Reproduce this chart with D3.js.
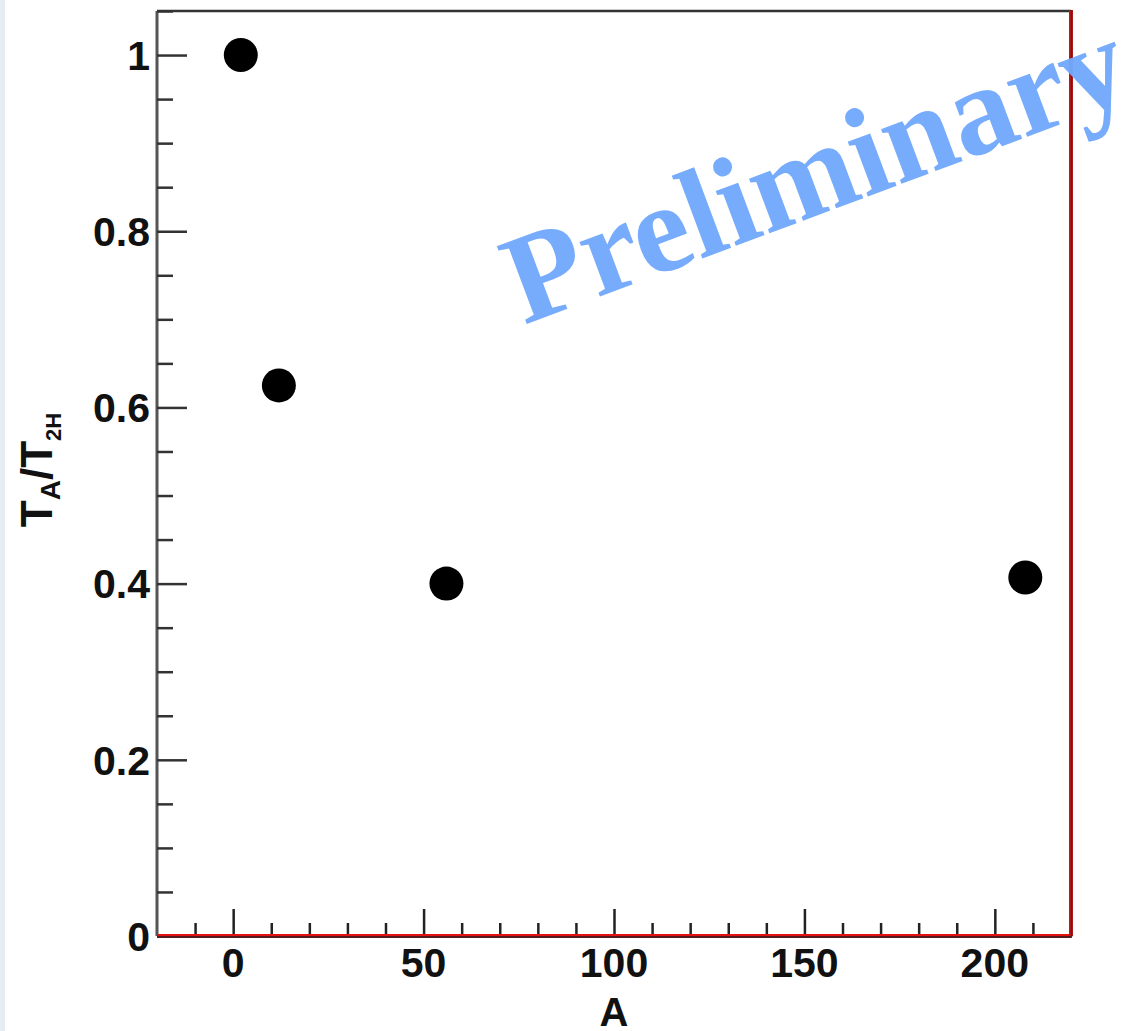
<!DOCTYPE html>
<html><head><meta charset="utf-8">
<script src="https://cdn.jsdelivr.net/npm/d3@7"></script>
<style>html,body{margin:0;padding:0;background:#fff;}svg{display:block;}</style>
</head><body>
<svg id="c" width="1127" height="1031"></svg>
<script>
const massNumbers = [2, 12, 56, 208];
const ratioValues = [1.0, 0.625, 0.40, 0.407];
const xTickValues = [0, 50, 100, 150, 200];
const yTickValues = [0, 0.2, 0.4, 0.6, 0.8, 1];
const xDomain = [-20, 220];
const yDomain = [0, 1.05];
const watermarkText = "Preliminary";

const svg = d3.select("#c");
const L = 157, R = 1071, T = 11, B = 936;
svg.append("rect").attr("x",0).attr("y",0).attr("width",5).attr("height",1031).attr("fill","#e6edf2");

const x = d3.scaleLinear().domain(xDomain).range([L, R]);
const y = d3.scaleLinear().domain(yDomain).range([B, T]);

// frame top/left
svg.append("line").attr("x1",L).attr("x2",R).attr("y1",T).attr("y2",T).attr("stroke","#333").attr("stroke-width",2.5);
svg.append("line").attr("x1",L).attr("x2",L).attr("y1",T).attr("y2",B).attr("stroke","#555").attr("stroke-width",3);

// y axis ticks
const yAxis = d3.axisRight(y).tickValues(yTickValues).tickSize(30).tickFormat("");
const gy = svg.append("g").attr("transform",`translate(${L},0)`).call(yAxis);
gy.select(".domain").remove();
gy.selectAll(".tick line").attr("stroke","#333").attr("stroke-width",2.5);
const yMinor = d3.range(0, 1.0501, 0.05).filter(v => !yTickValues.some(t => Math.abs(t - v) < 1e-6));
const gym = svg.append("g").attr("transform",`translate(${L},0)`).call(d3.axisRight(y).tickValues(yMinor).tickSize(16).tickFormat(""));
gym.select(".domain").remove();
gym.selectAll(".tick line").attr("stroke","#333").attr("stroke-width",2.5);

// y labels
svg.append("g").selectAll("text").data(yTickValues).join("text")
  .attr("x",150).attr("y",d=>y(d)).attr("dy","0.36em").attr("text-anchor","end")
  .attr("font-family","Liberation Sans, Arial, sans-serif").attr("font-weight","bold").attr("font-size",41)
  .attr("fill","#111").text(d=>d3.format("~g")(d));

// x ticks
const gx = svg.append("g").attr("transform",`translate(0,${B})`).call(d3.axisTop(x).tickValues(xTickValues).tickSize(27).tickFormat(""));
gx.select(".domain").remove();
gx.selectAll(".tick line").attr("stroke","#222").attr("stroke-width",2.5);
const xMinor = d3.range(-10, 220, 10).filter(v => !xTickValues.includes(v));
const gxm = svg.append("g").attr("transform",`translate(0,${B})`).call(d3.axisTop(x).tickValues(xMinor).tickSize(13).tickFormat(""));
gxm.select(".domain").remove();
gxm.selectAll(".tick line").attr("stroke","#222").attr("stroke-width",2.5);

svg.append("g").selectAll("text").data(xTickValues).join("text")
  .attr("x",d=>x(d)).attr("y",962).attr("dy","0.36em").attr("text-anchor","middle")
  .attr("font-family","Liberation Sans, Arial, sans-serif").attr("font-weight","bold").attr("font-size",41)
  .attr("fill","#111").text(d=>d);

// frame bottom/right (red)
svg.append("line").attr("x1",L).attr("x2",R).attr("y1",B).attr("y2",B).attr("stroke","#e51010").attr("stroke-width",4);
svg.append("line").attr("x1",L).attr("x2",R+1).attr("y1",B+1).attr("y2",B+1).attr("stroke","#222").attr("stroke-width",1.5);
svg.append("line").attr("x1",R).attr("x2",R).attr("y1",T-1).attr("y2",B).attr("stroke","#d01010").attr("stroke-width",4);
svg.append("line").attr("x1",R+0.5).attr("x2",R+0.5).attr("y1",T-1).attr("y2",B+1).attr("stroke","#333").attr("stroke-width",1.5);

// axis titles
svg.append("text").attr("x",614).attr("y",1026).attr("text-anchor","middle")
  .attr("font-family","Liberation Sans, Arial, sans-serif").attr("font-weight","bold").attr("font-size",40)
  .attr("fill","#111").text("A");
const yt = svg.append("text").attr("transform","translate(52,470) rotate(-90)").attr("text-anchor","middle")
  .attr("font-family","Liberation Sans, Arial, sans-serif").attr("font-weight","bold").attr("font-size",44).attr("fill","#111");
yt.append("tspan").text("T");
yt.append("tspan").attr("font-size",28).attr("dy",8).text("A");
yt.append("tspan").attr("dy",-8).text("/T");
yt.append("tspan").attr("font-size",22).attr("dy",9).text("2H");

// points
svg.append("g").selectAll("circle").data(massNumbers.map((m,i)=>({m, v: ratioValues[i]}))).join("circle")
  .attr("cx",d=>x(d.m)).attr("cy",d=>y(d.v)).attr("r",17).attr("fill","#000");

// watermark
svg.append("text").attr("transform","translate(524,325) rotate(-20.5)")
  .attr("font-family","Liberation Serif, Times New Roman, serif").attr("font-weight","bold").attr("font-size",127)
  .attr("fill","#72a9fb").attr("fill-opacity",0.97).text(watermarkText);
</script>
</body></html>
